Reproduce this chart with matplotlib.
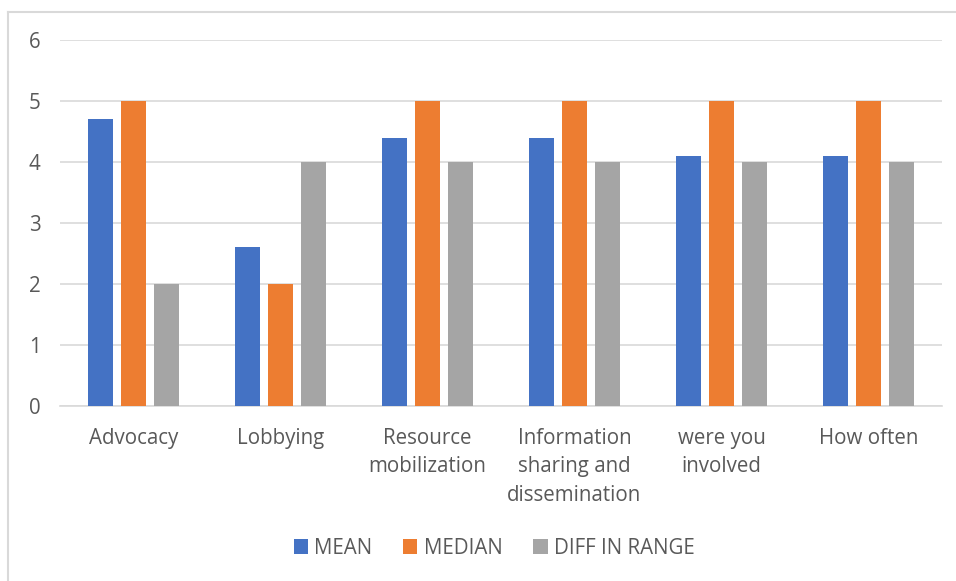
import matplotlib.pyplot as plt
import numpy as np
from matplotlib.lines import Line2D

categories = ['Advocacy', 'Lobbying', 'Resource\nmobilization',
              'Information\nsharing and\ndissemination', 'were you\ninvolved', 'How often']
mean = [4.7, 2.6, 4.4, 4.4, 4.1, 4.1]
median = [5, 2, 5, 5, 5, 5]
diff_range = [2, 4, 4, 4, 4, 4]

series = [('MEAN', mean, '#4472C4'),
          ('MEDIAN', median, '#ED7D31'),
          ('DIFF IN RANGE', diff_range, '#A5A5A5')]

plt.rcParams['font.family'] = ['Open Sans', 'DejaVu Sans']
text_color = '#595959'
fs = 14.8

fig = plt.figure(figsize=(9.56, 5.81), dpi=100)
ax = fig.add_axes([60/956, 1 - 406/581, 882/956, 366/581])

x = np.arange(len(categories))
step = 0.224
width = 0.172
for i, (name, vals, color) in enumerate(series):
    ax.bar(x + (i - 1) * step, vals, width, color=color, label=name, zorder=3)

ax.set_xlim(-0.5, len(categories) - 0.5)
ax.set_ylim(0, 6)
ax.set_yticks(range(7))
ax.yaxis.grid(True, color='#D9D9D9', linewidth=1.2, zorder=0)
ax.set_xticks(x)
ax.set_xticklabels(categories, linespacing=1.45, va='top')
ax.tick_params(axis='both', length=0, labelsize=fs, colors=text_color)
ax.tick_params(axis='x', pad=16)
ax.tick_params(axis='y', pad=14)
for side in ['left', 'right', 'top']:
    ax.spines[side].set_visible(False)
ax.spines['bottom'].set_color('#D9D9D9')
ax.spines['bottom'].set_linewidth(1.2)

ax.legend(loc='center', bbox_to_anchor=(494/956, 1 - 548/581),
          bbox_transform=fig.transFigure, ncol=3, frameon=False,
          fontsize=fs, labelcolor=text_color, handlelength=0.7,
          handleheight=0.7, handletextpad=0.3, columnspacing=1.5)

# chart frame (top and left edges)
fig.add_artist(Line2D([8/956, 1], [1 - 11.5/581] * 2, color='#D9D9D9',
                      linewidth=1.5, transform=fig.transFigure))
fig.add_artist(Line2D([8/956] * 2, [0, 1 - 11.5/581], color='#D9D9D9',
                      linewidth=1.5, transform=fig.transFigure))

fig.savefig('out.png', dpi=100)
